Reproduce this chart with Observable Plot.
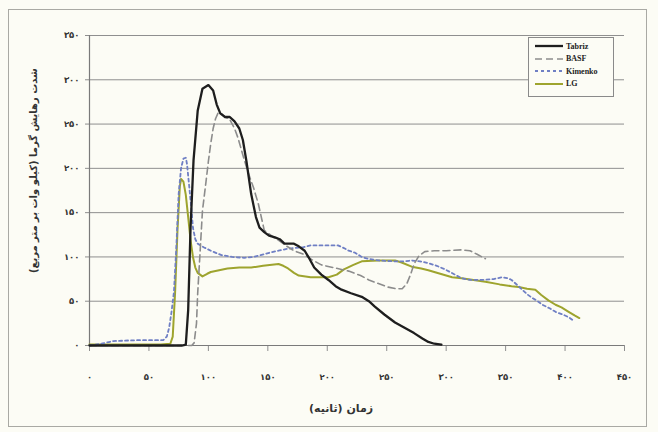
<!DOCTYPE html>
<html>
<head>
<meta charset="utf-8">
<script src="https://cdn.jsdelivr.net/npm/d3@7"></script>
<script src="https://cdn.jsdelivr.net/npm/@observablehq/plot@0.6"></script>
<style>
  html, body { margin: 0; padding: 0; background: #fcfcf5; }
  #wrap { position: relative; width: 658px; height: 432px; overflow: hidden; background: #fcfcf5; }
  #frame { position: absolute; left: 8px; top: 9px; width: 639px; height: 418px; border: 1px solid #a9a9a4; box-sizing: border-box; pointer-events: none; }
  #legend { position: absolute; left: 528px; top: 37px; width: 86px; height: 60px; border: 1px solid #8a8a8a; background: #fcfcf5; box-sizing: border-box; padding: 2px 0 0 6px; font-family: "Liberation Serif", serif; font-weight: bold; font-size: 8px; color: #222; }
  #legend .row { display: flex; align-items: center; height: 12.5px; }
  #legend svg { margin-right: 3px; }
</style>
</head>
<body>
<div id="wrap">
  <div id="chart"></div>
  <div id="frame"></div>
  <div id="legend"></div>
</div>
<script>
// ---- tick values and labels (Persian digits) ----
const xTicks = [0, 50, 100, 150, 200, 250, 300, 350, 400, 450];
const xTickLabels = ["۰", "۵۰", "۱۰۰", "۱۵۰", "۲۰۰", "۲۵۰", "۳۰۰", "۳۵۰", "۴۰۰", "۴۵۰"];
const yTicks = [0, 50, 100, 150, 200, 250, 300, 350];
const yTickLabels = ["۰", "۵۰", "۱۰۰", "۱۵۰", "۲۰۰", "۲۵۰", "۳۰۰", "۳۵۰"];

const xTitle = "زمان (ثانیه)";
const yTitle = "شدت رهایش گرما (کیلو وات بر متر مربع)";

const seriesNames = ["Tabriz", "BASF", "Kimenko", "LG"];

// ---- series: time (s) and heat release rate (kW/m²) ----
const tabrizTime = [0, 78, 81, 83, 85, 87.5, 91, 95, 100, 104, 107, 110, 114, 118, 122, 126, 129, 132, 136, 140, 143, 147, 151, 156, 160, 164, 168, 172, 176, 181, 185, 189, 195, 201, 207, 212, 220, 229, 235, 240, 248, 257, 265, 273, 280, 285, 290, 296];
const tabrizHRR  = [0, 0, 1, 40, 133, 209, 265, 290, 294, 288, 272, 262, 258, 258, 253, 245, 232, 208, 171, 145, 133, 128, 124, 122, 120, 115, 115, 115, 112, 107, 98, 88, 80, 74, 67, 63, 59, 55, 50, 44, 35, 26, 20, 14, 8, 4, 2, 1];

const basfTime = [0, 86, 88, 90, 91, 93, 95, 98, 100, 102, 104, 106, 108, 111, 114, 118, 122, 125, 129, 133, 138, 142, 145, 147, 151, 155, 160, 166, 172, 180, 187, 195, 205, 218, 228, 235, 243, 251, 258, 263, 267, 270, 273, 277, 282, 290, 300, 313, 320, 326, 333];
const basfHRR  = [0, 0, 3, 25, 59, 105, 152, 185, 208, 228, 245, 256, 262, 262, 258, 255, 245, 234, 215, 197, 178, 160, 142, 130, 126, 122, 118, 112, 107, 103, 97, 91, 88, 84, 79, 74, 70, 66, 64, 64, 70, 80, 92, 101, 106, 107, 107, 108, 107, 103, 98];

const kimenkoTime = [0, 10, 20, 40, 55, 62, 65, 67, 69, 71, 73, 75, 77, 79, 81, 82, 84, 86, 87, 89, 91, 96, 102, 111, 120, 130, 138, 144, 152, 159, 166, 172, 180, 186, 195, 201, 209, 214, 218, 223, 229, 234, 243, 257, 265, 271, 278, 285, 292, 299, 306, 313, 320, 330, 340, 347, 352, 355, 360, 364, 368, 372, 377, 381, 387, 392, 398, 403, 408];
const kimenkoHRR  = [0, 2, 5, 6, 6, 6, 10, 20, 38, 60, 110, 171, 200, 211, 212, 205, 178, 150, 133, 120, 115, 111, 107, 102, 100, 99, 100, 102, 105, 107, 109, 110, 111, 113, 113, 113, 113, 110, 107, 105, 100, 98, 96, 95, 95, 96, 95, 93, 90, 86, 81, 76, 74, 74, 75, 77, 76, 74, 68, 63, 58, 54, 50, 46, 42, 38, 35, 32, 27];

const lgTime = [0, 60, 68, 70, 72, 74, 76, 77, 79, 81, 83, 85, 87, 89, 91, 95, 99, 102, 109, 116, 126, 136, 146, 159, 163, 167, 172, 176, 186, 201, 208, 214, 222, 229, 243, 257, 262, 271, 279, 285, 295, 305, 313, 323, 333, 345, 355, 361, 368, 375, 380, 386, 392, 397, 403, 408, 412];
const lgHRR  = [1, 1, 2, 10, 60, 130, 180, 188, 185, 170, 145, 119, 100, 88, 82, 78, 81, 83, 85, 87, 88, 88, 90, 92, 90, 87, 82, 79, 77, 77, 80, 86, 91, 95, 96, 96, 94, 89, 87, 85, 81, 77, 76, 74, 72, 69, 67, 66, 64, 63, 57, 51, 46, 43, 38, 34, 31];

// ---- styles per series ----
const seriesColors = ["#1e1e1e", "#8c8c8c", "#6f7fc4", "#9ea42e"];
const seriesWidths = [2.3, 1.6, 1.8, 2];
const seriesDash   = [null, "7,4", "3,3", null];

const times = [tabrizTime, basfTime, kimenkoTime, lgTime];
const values = [tabrizHRR, basfHRR, kimenkoHRR, lgHRR];

const fmtX = d => xTickLabels[xTicks.indexOf(d)];
const fmtY = d => yTickLabels[yTicks.indexOf(d)];

const lineMarks = seriesNames.map((name, s) =>
  Plot.line(times[s].map((t, i) => ({t, v: values[s][i]})), {
    x: "t", y: "v",
    stroke: seriesColors[s],
    strokeWidth: seriesWidths[s],
    strokeDasharray: seriesDash[s],
    strokeLinejoin: "round",
    curve: "linear"
  })
);

// draw order: LG, Kimenko, BASF, Tabriz on top
const ordered = [lineMarks[3], lineMarks[2], lineMarks[1], lineMarks[0]];

const chart = Plot.plot({
  width: 658,
  height: 432,
  marginLeft: 89,
  marginRight: 34,
  marginTop: 35,
  marginBottom: 87,
  style: { background: "transparent", fontFamily: "DejaVu Sans, sans-serif", color: "#333" },
  x: { domain: [0, 450] },
  y: { domain: [0, 350] },
  marks: [
    Plot.gridY(yTicks, { stroke: "#8f8f8f", strokeOpacity: 1, strokeWidth: 1 }),
    Plot.axisY(yTicks, { tickFormat: fmtY, tickSize: 4, tickPadding: 6, fontSize: 8.5, fontWeight: "bold", label: null, stroke: "#8f8f8f" }),
    Plot.axisX(xTicks, { tickFormat: fmtX, tickSize: 6, tickPadding: 22, fontSize: 8.5, fontWeight: "bold", label: null, stroke: "#8f8f8f" }),
    Plot.ruleX([0], { stroke: "#7a7a7a", strokeWidth: 1.2 }),
    Plot.ruleY([0], { stroke: "#7a7a7a", strokeWidth: 1.2 }),
    ...ordered,
    Plot.text([yTitle], { frameAnchor: "left", textAnchor: "middle", rotate: -90, dx: -56, dy: -20, fontSize: 10, fontWeight: "bold", fill: "#333" }),
    Plot.text([xTitle], { frameAnchor: "bottom", dy: 66, dx: -16, fontSize: 11, fontWeight: "bold", fill: "#333" })
  ]
});
document.getElementById("chart").appendChild(chart);

// ---- legend ----
const legend = document.getElementById("legend");
seriesNames.forEach((name, s) => {
  const row = document.createElement("div");
  row.className = "row";
  const dash = seriesDash[s] ? ` stroke-dasharray="${seriesDash[s]}"` : "";
  row.innerHTML = `<svg width="28" height="6"><line x1="0" y1="3" x2="28" y2="3" stroke="${seriesColors[s]}" stroke-width="${seriesWidths[s]}"${dash}/></svg><span>${name}</span>`;
  legend.appendChild(row);
});
</script>
</body>
</html>
